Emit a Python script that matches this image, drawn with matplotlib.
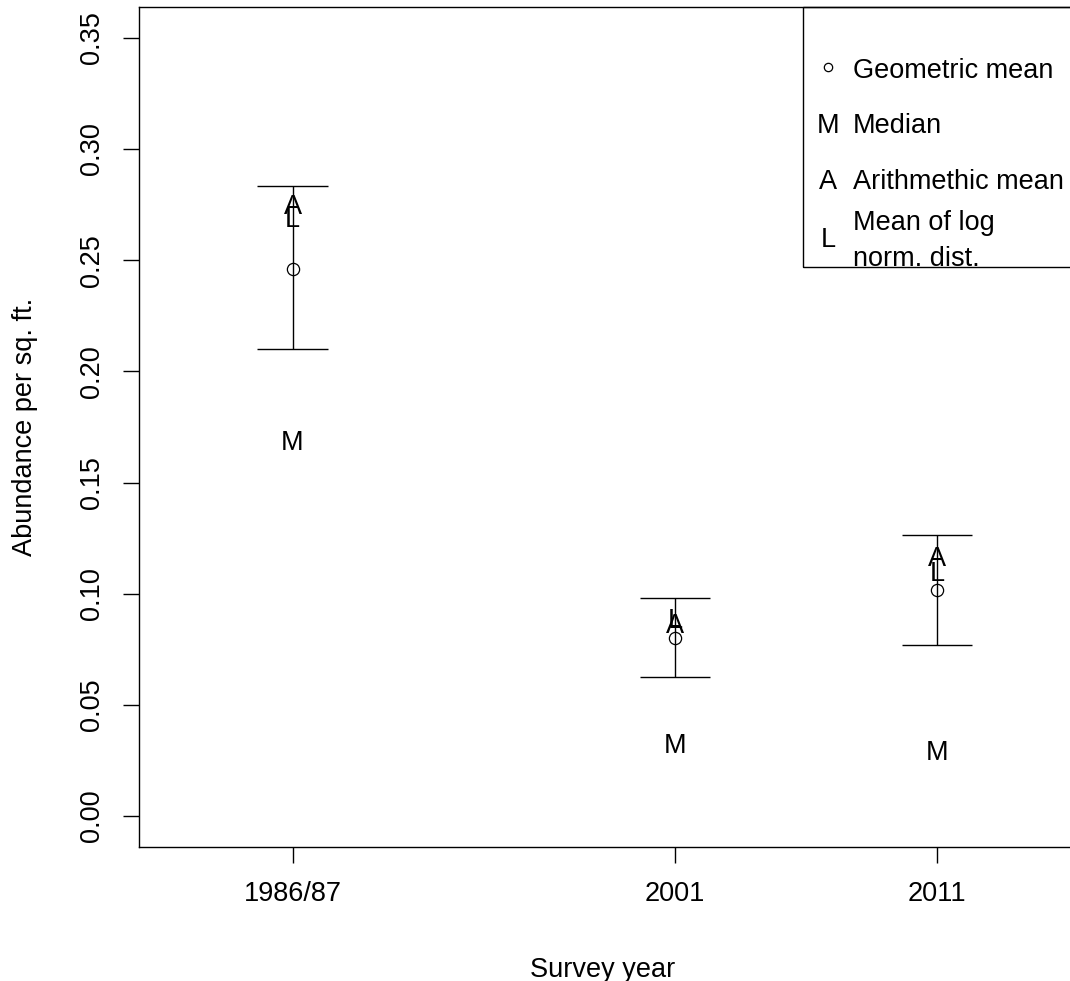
import numpy as np
import matplotlib
matplotlib.use('Agg')
import matplotlib.pyplot as plt
import matplotlib.transforms as mtransforms
from matplotlib.patches import Rectangle
from matplotlib.lines import Line2D

# survey years and summary statistics (abundance per sq. ft.)
years = ['1986/87', '2001', '2011']
year_pos = [1986.4, 2001, 2011]
upper = [0.2835, 0.0979, 0.1263]
lower = [0.2102, 0.0627, 0.0768]
geo_mean = [0.2462, 0.0803, 0.1015]
median = [0.1691, 0.0329, 0.0294]
arith_mean = [0.2752, 0.0868, 0.1170]
lognorm_mean = [0.2695, 0.0891, 0.1102]

W, H = 1070, 981
fs = 19.5
plt.rcParams['font.family'] = ['Liberation Sans', 'DejaVu Sans']

fig = plt.figure(figsize=(W / 100, H / 100), dpi=100)
ax = fig.add_axes([139 / W, 1 - 847.3 / H, (1085 - 139) / W, (847.3 - 6.7) / H])

cap = 1.34
lw = 1.0
ax.vlines(year_pos, lower, upper, color='black', lw=lw)
ax.hlines(upper, np.array(year_pos) - cap, np.array(year_pos) + cap, color='black', lw=lw)
ax.hlines(lower, np.array(year_pos) - cap, np.array(year_pos) + cap, color='black', lw=lw)
ax.plot(year_pos, geo_mean, 'o', ms=8.8, mfc='none', mec='black', mew=0.9)

# letters as point symbols, centred on their value
shifted = mtransforms.offset_copy(ax.transData, fig=fig, x=0, y=-0.358 * fs, units='points')
for x, m, a, l in zip(year_pos, median, arith_mean, lognorm_mean):
    ax.text(x, m, 'M', transform=shifted, ha='center', va='baseline', fontsize=fs)
    ax.text(x, a, 'A', transform=shifted, ha='center', va='baseline', fontsize=fs)
    ax.text(x, l, 'L', transform=shifted, ha='center', va='baseline', fontsize=fs)

ax.set_xlim(1980.54, 1980.54 + (1085 - 139) / 26.2)
ax.set_ylim(-0.014, 0.364)
ax.set_xticks(year_pos)
ax.set_xticklabels(years)
ax.set_yticks(np.arange(0, 0.351, 0.05))
ax.set_yticklabels(['%.2f' % v for v in np.arange(0, 0.351, 0.05)])
ax.tick_params(direction='out', length=11.5, width=lw, pad=13, labelsize=fs, color='black')
for lab in ax.get_yticklabels():
    lab.set_rotation(90)
    lab.set_va('center')
for sp in ax.spines.values():
    sp.set_linewidth(lw)

fig.text(603 / W, 1 - 977 / H, 'Survey year', ha='center', va='baseline', fontsize=fs)
fig.text(25 / W, 1 - 427 / H, 'Abundance per sq. ft.', ha='center', va='center',
         rotation=90, fontsize=fs)

# legend box, top right
fx = lambda px: px / W
fy = lambda py: 1 - py / H
fig.patches.append(Rectangle((fx(803), fy(267)), fx(1090) - fx(803), fy(7) - fy(267),
                             transform=fig.transFigure, fill=False, ec='black', lw=lw))
fig.lines.append(Line2D([fx(828)], [fy(67)], transform=fig.transFigure, marker='o',
                        ms=6, mfc='none', mec='black', mew=0.9))
fig.text(fx(828), fy(133), 'M', ha='center', va='baseline', fontsize=fs)
fig.text(fx(828), fy(189), 'A', ha='center', va='baseline', fontsize=fs)
fig.text(fx(828), fy(247), 'L', ha='center', va='baseline', fontsize=fs)
fig.text(fx(853), fy(78), 'Geometric mean', ha='left', va='baseline', fontsize=fs)
fig.text(fx(853), fy(133), 'Median', ha='left', va='baseline', fontsize=fs)
fig.text(fx(853), fy(189), 'Arithmethic mean', ha='left', va='baseline', fontsize=fs)
fig.text(fx(853), fy(230), 'Mean of log', ha='left', va='baseline', fontsize=fs)
fig.text(fx(853), fy(266), 'norm. dist.', ha='left', va='baseline', fontsize=fs)

fig.savefig('out.png', dpi=100)
